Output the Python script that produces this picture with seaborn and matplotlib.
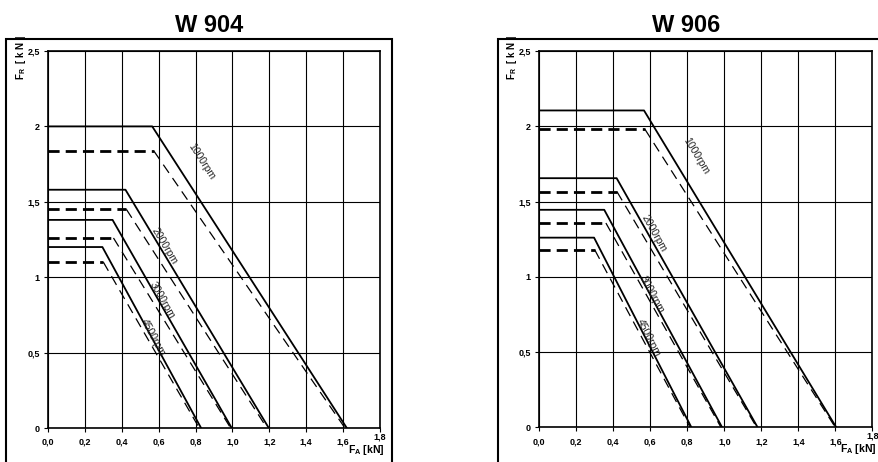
import numpy as np
import matplotlib
matplotlib.use("Agg")
import matplotlib.pyplot as plt
import seaborn as sns
from matplotlib.patches import Rectangle
from matplotlib.transforms import ScaledTranslation

sns.set_style("white")
plt.rcParams["font.family"] = ["Liberation Sans", "DejaVu Sans"]
plt.rcParams["text.color"] = "black"
plt.rcParams["mathtext.fontset"] = "custom"
plt.rcParams["mathtext.rm"] = "Liberation Sans:bold"
plt.rcParams["mathtext.it"] = "Liberation Sans:bold"
plt.rcParams["mathtext.bf"] = "Liberation Sans:bold"
plt.rcParams["mathtext.default"] = "rm"

# ---------------------------
# Data
# ---------------------------
rpm_labels = ["1000rpm", "2000rpm", "3000rpm", "4500rpm"]

x_ticks = [0.0, 0.2, 0.4, 0.6, 0.8, 1.0, 1.2, 1.4, 1.6, 1.8]
x_tick_labels = ["0,0", "0,2", "0,4", "0,6", "0,8", "1,0", "1,2", "1,4", "1,6", "1,8"]
y_ticks = [0, 0.5, 1.0, 1.5, 2.0, 2.5]
y_tick_labels = ["0", "0,5", "1", "1,5", "2", "2,5"]

# W 904
w904_solid_fr = [2.00, 1.58, 1.38, 1.20]
w904_solid_knee = [0.565, 0.420, 0.350, 0.295]
w904_solid_end = [1.620, 1.197, 0.996, 0.830]
w904_dash_fr = [1.835, 1.450, 1.260, 1.100]
w904_dash_knee = [0.575, 0.425, 0.355, 0.300]
w904_dash_end = [1.610, 1.187, 0.990, 0.820]

# W 906
w906_solid_fr = [2.105, 1.655, 1.445, 1.260]
w906_solid_knee = [0.566, 0.418, 0.351, 0.296]
w906_solid_end = [1.605, 1.180, 0.988, 0.822]
w906_dash_fr = [1.980, 1.565, 1.357, 1.178]
w906_dash_knee = [0.571, 0.420, 0.360, 0.300]
w906_dash_end = [1.600, 1.175, 0.982, 0.815]

# where the rpm labels sit (data coords)
w904_label_pos = [(0.835, 1.77), (0.63, 1.21), (0.62, 0.85), (0.57, 0.60)]
w906_label_pos = [(0.847, 1.80), (0.62, 1.29), (0.61, 0.885), (0.59, 0.595)]

W, H = 879, 462
fig = plt.figure(figsize=(W / 100, H / 100), dpi=100)


def px_box(x0, x1, top, bottom):
    return [x0 / W, 1 - bottom / H, (x1 - x0) / W, (bottom - top) / H]


panels = [
    dict(title="W 904", ax_box=px_box(48, 380, 51, 428), frame_x0=6.5, frame_x1=392,
         title_x=209, ylab_x=21,
         solid=(w904_solid_fr, w904_solid_knee, w904_solid_end),
         dash=(w904_dash_fr, w904_dash_knee, w904_dash_end),
         label_pos=w904_label_pos),
    dict(title="W 906", ax_box=px_box(539.3, 872.3, 51, 427.3), frame_x0=498, frame_x1=882,
         title_x=686, ylab_x=512,
         solid=(w906_solid_fr, w906_solid_knee, w906_solid_end),
         dash=(w906_dash_fr, w906_dash_knee, w906_dash_end),
         label_pos=w906_label_pos),
]

for p in panels:
    # outer frame
    fig.add_artist(Rectangle((p["frame_x0"] / W, -0.05), (p["frame_x1"] - p["frame_x0"]) / W,
                             1.05 - 39 / H, transform=fig.transFigure,
                             fill=False, ec="black", lw=1.5))
    fig.text(p["title_x"] / W, 1 - 32.3 / H, p["title"], ha="center", va="baseline",
             fontsize=17, fontweight="bold", color="black")
    fig.text(p["ylab_x"] / W, 1 - 57.5 / H, r"F$_R$  [ k N ]", rotation=90,
             ha="center", va="center", fontsize=7, fontweight="bold", color="black")

    ax = fig.add_axes(p["ax_box"])
    ax.set_xlim(0, 1.8)
    ax.set_ylim(0, 2.5)

    s_fr, s_knee, s_end = p["solid"]
    d_fr, d_knee, d_end = p["dash"]
    for i in range(len(rpm_labels)):
        sns.lineplot(x=[0, s_knee[i], s_end[i]], y=[s_fr[i], s_fr[i], 0], ax=ax,
                     color="black", lw=1.3, sort=False, estimator=None)
        sns.lineplot(x=[0, d_knee[i]], y=[d_fr[i], d_fr[i]], ax=ax,
                     color="black", lw=2.0, linestyle=(0, (4, 2.2)),
                     sort=False, estimator=None)
        sns.lineplot(x=[d_knee[i], d_end[i]], y=[d_fr[i], 0], ax=ax,
                     color="black", lw=0.9, linestyle=(0, (8, 5)),
                     sort=False, estimator=None)

    ax.set_xticks(x_ticks)
    ax.set_xticklabels(x_tick_labels)
    ax.set_yticks(y_ticks)
    ax.set_yticklabels(y_tick_labels)
    ax.grid(True, color="black", lw=0.8)
    ax.set_axisbelow(True)
    ax.tick_params(bottom=True, left=True, direction="out", length=3, width=0.8,
                   labelsize=6.5, colors="black")
    ax.tick_params(axis="x", pad=4)
    ax.tick_params(axis="y", pad=3)
    for lbl in ax.get_xticklabels() + ax.get_yticklabels():
        lbl.set_fontweight("bold")
    last = ax.get_xticklabels()[-1]
    last.set_transform(last.get_transform() + ScaledTranslation(0, 4 / 72, fig.dpi_scale_trans))
    for sp in ax.spines.values():
        sp.set_visible(True)
        sp.set_color("black")
        sp.set_linewidth(1.2)

    ax.set_xlabel(r"F$_A$ [kN]", fontsize=7.5, fontweight="bold", color="black")
    ax.xaxis.set_label_coords(1.012, -0.058)
    ax.xaxis.label.set_ha("right")
    ax.xaxis.label.set_va("center")
    ax.set_ylabel("")

    # rpm labels, rotated along the solid lines
    for i, (lx, ly) in enumerate(p["label_pos"]):
        a = ax.transData.transform((s_knee[i], s_fr[i]))
        b = ax.transData.transform((s_end[i], 0))
        ang = np.degrees(np.arctan2(b[1] - a[1], b[0] - a[0]))
        ax.text(lx, ly, rpm_labels[i], rotation=ang, rotation_mode="anchor",
                ha="center", va="center", fontsize=7.5, color="#222222")

fig.savefig("out.png", dpi=100)
